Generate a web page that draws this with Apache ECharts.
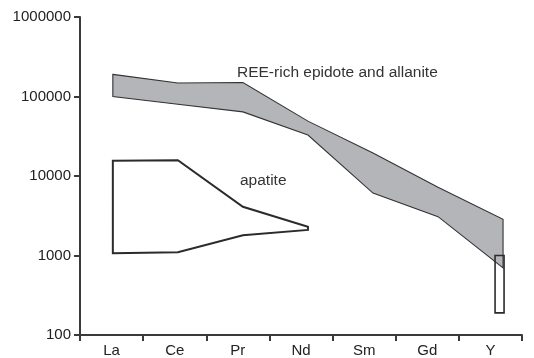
<!DOCTYPE html>
<html>
<head>
<meta charset="utf-8">
<script src="https://cdn.jsdelivr.net/npm/echarts@6/dist/echarts.min.js"></script>
<style>
  html, body { margin: 0; padding: 0; background: #fff; }
  #chart { width: 534px; height: 358px; }
</style>
</head>
<body>
<div id="chart"></div>
<script>
// Chondrite-normalised REE fields, by element
const elements = ['La', 'Ce', 'Pr', 'Nd', 'Sm', 'Gd', 'Y'];
// position of each element's vertices along the x scale (0..7)
const elementPos = [0.52, 1.55, 2.58, 3.61, 4.64, 5.67, 6.70];

// REE-rich epidote and allanite envelope
const epidoteUpper = [190000, 148000, 150000, 49000, 19500, 7200, 2850];
const epidoteLower = [100000, 80000, 64000, 32800, 6100, 3080, 700];

// apatite field, La to Nd
const apatiteUpper = [15600, 15800, 4100, 2300];
const apatiteLower = [1070, 1100, 1800, 2100];
// apatite range at Y
const apatiteY = [190, 1000];

const yTicks = [100, 1000, 10000, 100000, 1000000];

const FONT = '"Liberation Sans", Arial, Helvetica, sans-serif';
const INK = '#2b2b2b';

function envelope(upper, lower) {
  const pts = upper.map((v, i) => [elementPos[i], v]);
  for (let i = lower.length - 1; i >= 0; i--) pts.push([elementPos[i], lower[i]]);
  return pts;
}

const epidotePoly = envelope(epidoteUpper, epidoteLower);
const apatitePoly = envelope(apatiteUpper, apatiteLower);
const yIdx = elements.indexOf('Y');

const chart = echarts.init(document.getElementById('chart'), null, { renderer: 'canvas' });

chart.setOption({
  animation: false,
  backgroundColor: '#fff',
  textStyle: { fontFamily: FONT },
  grid: { left: 80, right: 12, top: 17, bottom: 23, containLabel: false },
  xAxis: [
    {
      type: 'category',
      data: elements,
      boundaryGap: true,
      axisLine: { show: true, lineStyle: { color: '#3a3a3a', width: 2 } },
      axisTick: { show: true, length: 6, lineStyle: { color: '#3a3a3a', width: 2 } },
      axisLabel: { color: '#222', fontSize: 15, fontFamily: FONT, margin: 8 },
      splitLine: { show: false }
    },
    {
      type: 'value',
      min: 0,
      max: 7,
      show: false
    }
  ],
  yAxis: {
    type: 'log',
    logBase: 10,
    min: yTicks[0],
    max: yTicks[yTicks.length - 1],
    axisLine: { show: true, lineStyle: { color: '#3a3a3a', width: 2 } },
    axisTick: { show: true, length: 6, lineStyle: { color: '#3a3a3a', width: 2 } },
    axisLabel: {
      color: '#222', fontSize: 15, fontFamily: FONT, margin: 9,
      formatter: v => String(Math.round(v))
    },
    splitLine: { show: false }
  },
  series: [
    {
      name: 'REE-rich epidote and allanite',
      type: 'custom',
      coordinateSystem: 'cartesian2d',
      xAxisIndex: 1,
      yAxisIndex: 0,
      data: [epidotePoly[0]],
      z: 2,
      renderItem: (params, api) => ({
        type: 'polygon',
        shape: { points: epidotePoly.map(p => api.coord(p)) },
        style: { fill: '#b4b5b9', stroke: '#333', lineWidth: 1.1 }
      })
    },
    {
      name: 'apatite',
      type: 'custom',
      coordinateSystem: 'cartesian2d',
      xAxisIndex: 1,
      yAxisIndex: 0,
      data: [apatitePoly[0]],
      z: 3,
      renderItem: (params, api) => ({
        type: 'polygon',
        shape: { points: apatitePoly.map(p => api.coord(p)) },
        style: { fill: 'none', stroke: INK, lineWidth: 2 }
      })
    },
    {
      name: 'apatite Y',
      type: 'custom',
      coordinateSystem: 'cartesian2d',
      xAxisIndex: 1,
      yAxisIndex: 0,
      data: [[elementPos[yIdx], apatiteY[1]]],
      z: 4,
      renderItem: (params, api) => {
        const top = api.coord([elementPos[yIdx], apatiteY[1]]);
        const bottom = api.coord([elementPos[yIdx], apatiteY[0]]);
        return {
          type: 'rect',
          shape: { x: top[0] - 8, y: top[1], width: 9, height: bottom[1] - top[1] },
          style: { fill: 'none', stroke: INK, lineWidth: 1.6 }
        };
      }
    }
  ],
  graphic: [
    {
      type: 'text',
      x: 237, y: 73,
      style: {
        text: 'REE-rich epidote and allanite',
        fill: '#333', font: '15.5px ' + FONT,
        textAlign: 'left', textVerticalAlign: 'middle'
      }
    },
    {
      type: 'text',
      x: 240, y: 181,
      style: {
        text: 'apatite',
        fill: '#333', font: '15.5px ' + FONT,
        textAlign: 'left', textVerticalAlign: 'middle'
      }
    }
  ]
});
</script>
</body>
</html>
